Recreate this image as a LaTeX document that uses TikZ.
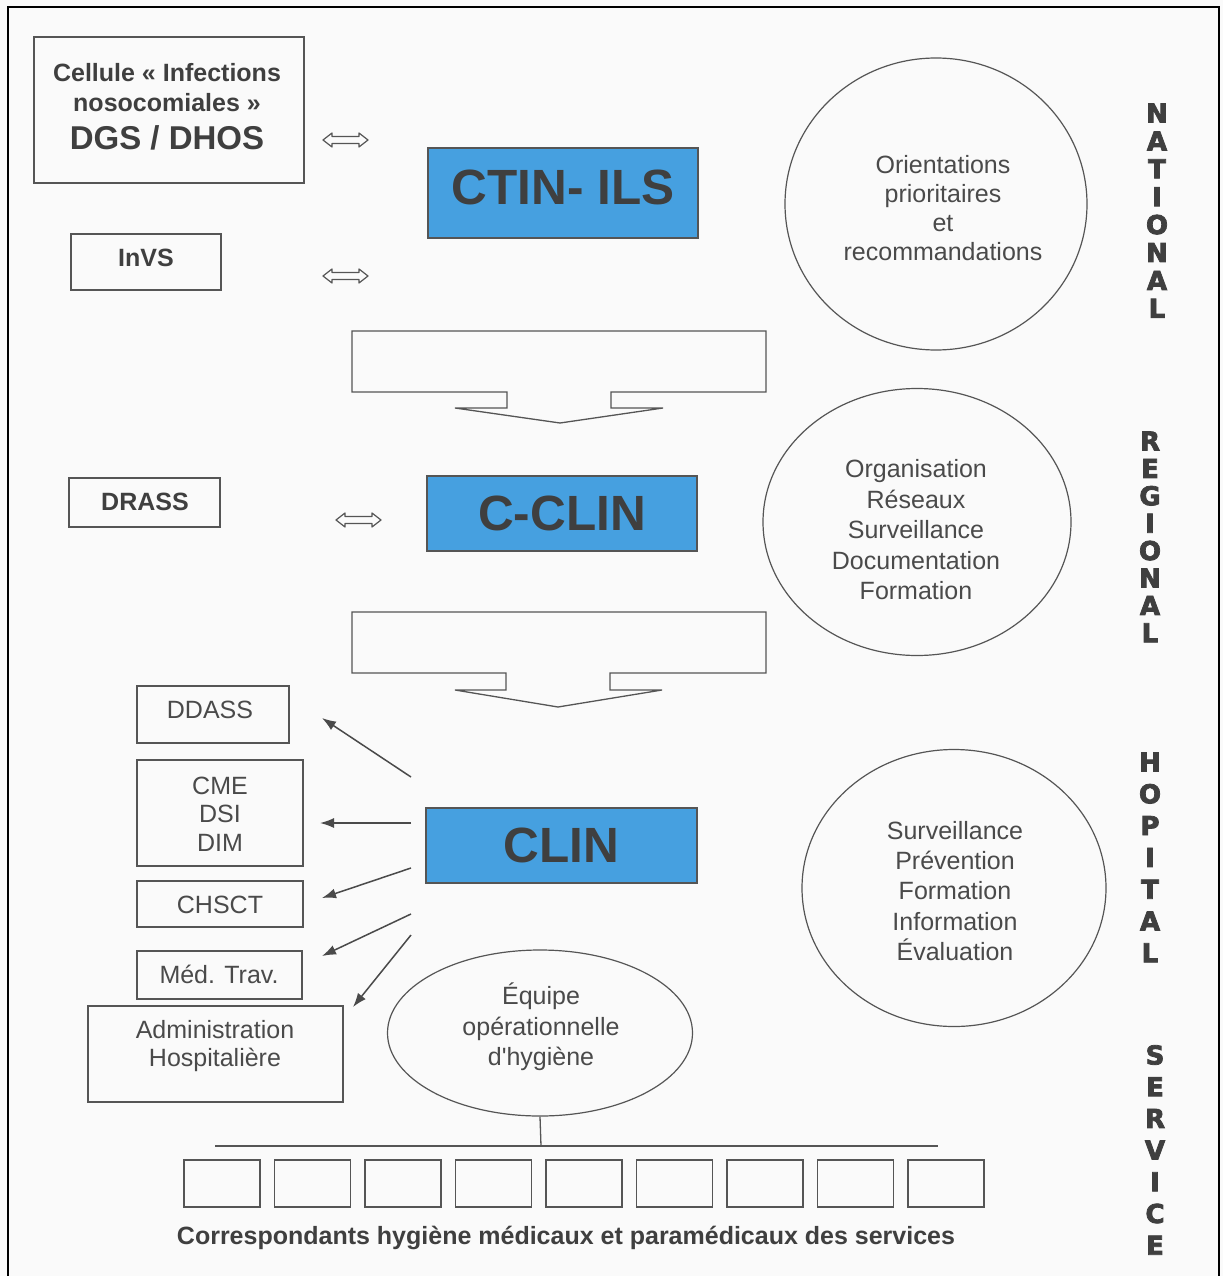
\documentclass[tikz,border=0pt]{standalone}
\usepackage{fontspec}
\setmainfont{Liberation Sans}
\newfontfamily\heavyfont[BoldFeatures={FakeBold=3}]{DejaVu Sans}
\usetikzlibrary{arrows.meta,shapes.geometric}
\definecolor{txt}{HTML}{4A4A4A}
\definecolor{ln}{HTML}{555555}
\definecolor{blu}{HTML}{46A0E0}
\definecolor{bg}{HTML}{FAFAFA}
\newcommand\fsz[2]{\fontsize{#1pt}{#2pt}\selectfont}
\begin{document}
\begin{tikzpicture}[x=1pt,y=-1pt,
  box/.style={draw=ln, line width=1.4pt, inner sep=0pt},
  bluebox/.style={draw=ln, line width=1.4pt, fill=blu, inner sep=0pt, text=txt!85!black, font=\fsz{49.5}{55}\bfseries},
  oval/.style={draw=ln, line width=1.2pt, ellipse, inner sep=0pt},
  lbl/.style={inner sep=0pt, text=txt, align=center, font=\fsz{25}{30}},
  blbl/.style={inner sep=0pt, text=txt!85!black, align=center, font=\fsz{25}{30}\bfseries},
  vlet/.style={inner sep=0pt, text=txt!85!black, font=\heavyfont\fsz{26}{26}\bfseries},
  shape line/.style={draw=ln, line width=1.3pt},
  toarrow/.style={draw=txt, line width=1.5pt, -{Latex[length=14pt,width=10pt]}},
  dbl/.pic={\draw[draw=ln, line width=1.2pt, line join=round] (0,0) -- (9,-7) -- (9,-3.5) -- (36,-3.5) -- (36,-7) -- (45,0) -- (36,7) -- (36,3.5) -- (9,3.5) -- (9,7) -- cycle;}
]
\useasboundingbox (0,0) rectangle (1223,1276);
\fill[bg] (0,0) rectangle (1223,1276);
\draw[line width=2.5pt, black] (8,7) rectangle (1219,1300);

% left boxes
\node[box, minimum width=270pt, minimum height=146pt] (cellule) at (169,110) {};
\node[blbl] (cellt) at (167,88) {Cellule « Infections\\nosocomiales »};
\node[blbl, font=\fsz{33}{36}\bfseries] (dgs) at (167,138) {DGS / DHOS};
\node[box, minimum width=150pt, minimum height=56pt] (invs) at (146,262) {};
\node[blbl] (invst) at (146,258) {InVS};
\node[box, minimum width=151pt, minimum height=49pt] (drass) at (144.5,502.5) {};
\node[blbl] (drasst) at (145,502) {DRASS};

% double arrows
\pic (d1) at (323,140) {dbl};
\pic (d2) at (323,276) {dbl};
\pic (d3) at (336,520) {dbl};

% blue boxes
\node[bluebox, minimum width=270pt, minimum height=90pt] (ctin) at (563,193) {};
\node[inner sep=0pt, text=txt!85!black, font=\fsz{49.5}{55}\bfseries] (ctint) at (563,187) {CTIN- ILS};
\node[bluebox, minimum width=270pt, minimum height=75pt] (cclin) at (562,513.5) {C-CLIN};
\node[bluebox, minimum width=271pt, minimum height=75pt] (clin) at (561.5,845.5) {CLIN};

% big arrows
\draw[shape line, line join=miter] (352,331) -- (766,331) -- (766,392) -- (611,392) -- (611,408) -- (663,408) -- (560,423) -- (455,408) -- (507,408) -- (507,392) -- (352,392) -- cycle;
\draw[shape line, line join=miter] (352,612) -- (766,612) -- (766,673) -- (610,673) -- (610,690) -- (662,690) -- (558,707) -- (455,690) -- (506,690) -- (506,673) -- (352,673) -- cycle;

% circles
\node[oval, minimum width=302pt, minimum height=292pt] (o1) at (936,204) {};
\node[lbl, font=\fsz{25}{29}] (o1t) at (943,208) {Orientations\\prioritaires\\et\\recommandations};
\node[oval, minimum width=308pt, minimum height=267pt] (o2) at (917,522) {};
\node[lbl, font=\fsz{25}{30.5}] (o2t) at (916,530) {Organisation\\Réseaux\\Surveillance\\Documentation\\Formation};
\node[oval, minimum width=304pt, minimum height=277pt] (o3) at (954,888) {};
\node[lbl, font=\fsz{25}{30.2}] (o3t) at (955,891) {Surveillance\\Prévention\\Formation\\Information\\Évaluation};
\node[oval, minimum width=305pt, minimum height=166pt] (eq) at (540,1033) {};
\node[lbl, font=\fsz{25}{30.5}] (eqt) at (541,1027) {Équipe\\opérationnelle\\d\textquotesingle hygiène};

% hospital-level boxes
\node[box, minimum width=152pt, minimum height=57pt] (ddass) at (213,714.5) {};
\node[lbl] (ddasst) at (210,710) {DDASS};
\node[box, minimum width=166pt, minimum height=106pt] (cme) at (220,813) {};
\node[lbl, font=\fsz{25}{28.5}] (cmet) at (220,814) {CME\\DSI\\DIM};
\node[box, minimum width=166pt, minimum height=46pt] (chsct) at (220,904) {};
\node[lbl] (chsctt) at (220,905) {CHSCT};
\node[box, minimum width=165pt, minimum height=48pt] (med) at (219.5,975) {};
\node[lbl] (medt) at (219,974) {Méd. Trav.};
\node[box, minimum width=255pt, minimum height=96pt] (adm) at (215.5,1054) {};
\node[lbl, font=\fsz{25}{28}] (admt) at (215,1046) {Administration\\Hospitalière};

% arrows from CLIN
\coordinate (s1) at (411,777); \coordinate (e1) at (322,718);
\coordinate (s2) at (411,823); \coordinate (e2) at (320,823);
\coordinate (s3) at (411,868); \coordinate (e3) at (322,898);
\coordinate (s4) at (411,914); \coordinate (e4) at (322,956);
\coordinate (s5) at (411,935); \coordinate (e5) at (353,1007);
\draw[toarrow] (s1) -- (e1);
\draw[toarrow] (s2) -- (e2);
\draw[toarrow] (s3) -- (e3);
\draw[toarrow] (s4) -- (e4);
\draw[toarrow] (s5) -- (e5);

% service row
\coordinate (bus) at (541,1146);
\coordinate (busl) at (215,1146);
\coordinate (busr) at (938,1146);
\draw[shape line] (eq.south) -- (bus);
\draw[shape line] (busl) -- (busr);
\foreach \i in {0,...,8} {
  \node[box, minimum width=76pt, minimum height=47pt] (corr\i) at ({222+90.5*\i},1183.5) {};
}
\node[blbl, font=\fsz{25}{30}\bfseries] (corrt) at (566,1238) {Correspondants hygiène médicaux et paramédicaux des services};

% vertical level labels
\foreach \l [count=\i] in {N,A,T,I,O,N,A,L} {
  \node[vlet] (nat\i) at (1157,{113+27.9*(\i-1)}) {\l};
}
\foreach \l [count=\i] in {R,E,G,I,O,N,A,L} {
  \node[vlet] (reg\i) at (1150,{441+27.4*(\i-1)}) {\l};
}
\foreach \l [count=\i] in {H,O,P,I,T,A,L} {
  \node[vlet] (hop\i) at (1150,{762+31.8*(\i-1)}) {\l};
}
\foreach \l [count=\i] in {S,E,R,V,I,C,E} {
  \node[vlet] (ser\i) at (1155,{1055+31.7*(\i-1)}) {\l};
}
\end{tikzpicture}
\end{document}
